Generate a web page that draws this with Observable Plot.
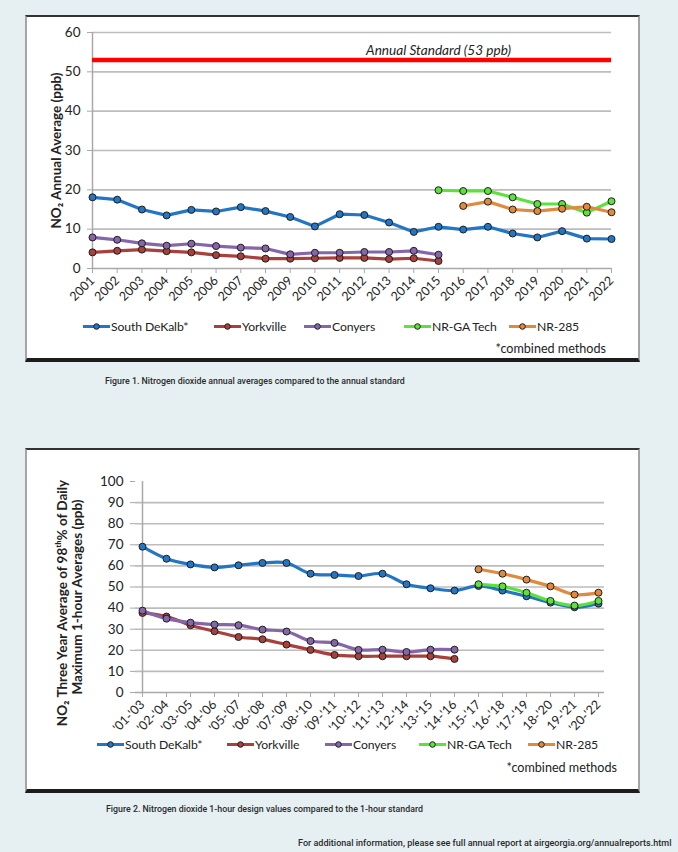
<!DOCTYPE html>
<html>
<head>
<meta charset="utf-8">
<script src="https://cdn.jsdelivr.net/npm/d3@7"></script>
<script src="https://cdn.jsdelivr.net/npm/@observablehq/plot@0.6"></script>
<style>
  html, body { margin: 0; padding: 0; }
  body { width: 678px; height: 852px; background: #e6f0f2; position: relative; overflow: hidden; font-family: Lato, "Open Sans", sans-serif; color: #222; }
  .panel { position: absolute; box-sizing: border-box; background: #fff; border-top: 2px solid #333; border-bottom: 4px solid #1c1c1c; border-left: 2px solid #a5a5a5; border-right: 2px solid #a5a5a5; }
  .chart { position: absolute; }
  .chart svg { overflow: visible; }
  .leg { position: absolute; display: flex; align-items: center; font-size: 12.2px; letter-spacing: -0.1px; white-space: nowrap; transform: translateY(-50%); }
  .leg svg { display: block; margin-right: 1px; }
  .note { position: absolute; font-size: 12.6px; white-space: nowrap; transform: translate(-100%, -50%); }
  .cap { position: absolute; font-family: Roboto, sans-serif; font-weight: 500; font-size: 8.8px; color: #2a2a2a; white-space: nowrap; transform: translateY(-50%); }
  .foot { font-size: 9.05px; }
</style>
</head>
<body>
<div class="panel" style="left:25px;top:15px;width:615px;height:347px"></div>
<div class="panel" style="left:25px;top:448px;width:615px;height:345px"></div>
<div id="chart1" class="chart" style="left:25px;top:15px"></div>
<div id="chart2" class="chart" style="left:25px;top:448px"></div>
<div id="legend1"></div>
<div id="legend2"></div>
<div class="note" style="left:606px;top:348px">*combined methods</div>
<div class="note" style="left:617px;top:767px">*combined methods</div>
<div class="cap" style="left:105px;top:381px">Figure 1. Nitrogen dioxide annual averages compared to the annual standard</div>
<div class="cap" style="left:106px;top:809px">Figure 2. Nitrogen dioxide 1-hour design values compared to the 1-hour standard</div>
<div class="cap foot" style="left:298px;top:843px">For additional information, please see full annual report at airgeorgia.org/annualreports.html</div>
<script>
// ---------- Data: Figure 1 (annual averages, ppb) ----------
const years = [2001, 2002, 2003, 2004, 2005, 2006, 2007, 2008, 2009, 2010, 2011,
               2012, 2013, 2014, 2015, 2016, 2017, 2018, 2019, 2020, 2021, 2022];
const southDeKalbAnnual = [18.1, 17.5, 15.0, 13.5, 14.9, 14.5, 15.6, 14.6, 13.1, 10.7, 13.8,
                           13.6, 11.7, 9.3, 10.6, 9.9, 10.6, 8.9, 7.9, 9.5, 7.6, 7.5];
const yorkvilleYears = [2001, 2002, 2003, 2004, 2005, 2006, 2007, 2008, 2009, 2010, 2011, 2012, 2013, 2014, 2015];
const yorkvilleAnnual = [4.1, 4.5, 4.8, 4.4, 4.1, 3.4, 3.1, 2.5, 2.5, 2.6, 2.7, 2.7, 2.4, 2.6, 1.9];
const conyersYears = [2001, 2002, 2003, 2004, 2005, 2006, 2007, 2008, 2009, 2010, 2011, 2012, 2013, 2014, 2015];
const conyersAnnual = [7.9, 7.3, 6.4, 5.8, 6.3, 5.7, 5.3, 5.1, 3.6, 4.0, 4.0, 4.2, 4.2, 4.5, 3.5];
const gaTechYears = [2015, 2016, 2017, 2018, 2019, 2020, 2021, 2022];
const gaTechAnnual = [19.9, 19.7, 19.7, 18.1, 16.4, 16.4, 14.2, 17.1];
const nr285Years = [2016, 2017, 2018, 2019, 2020, 2021, 2022];
const nr285Annual = [15.9, 17.0, 15.0, 14.6, 15.2, 15.7, 14.3];
const annualStandard = 53;
const annualStandardLabel = "Annual Standard (53 ppb)";
const annualYLabel = "NO\u2082 Annual Average (ppb)";
const annualYTicks = [0, 10, 20, 30, 40, 50, 60];

// ---------- Data: Figure 2 (1-hour design values, ppb) ----------
const periods = ["'01-'03", "'02-'04", "'03-'05", "'04-'06", "'05-'07", "'06-'08", "'07-'09",
                 "'08-'10", "'09-'11", "'10-'12", "'11-'13", "'12-'14", "'13-'15", "'14-'16",
                 "'15-'17", "'16-'18", "'17-'19", "18-'20", "19-'21", "'20-'22"];
const southDeKalbHour = [69.1, 63.4, 60.7, 59.3, 60.3, 61.4, 61.4, 56.3, 55.7, 55.2,
                         56.3, 51.3, 49.4, 48.3, 50.5, 48.3, 45.6, 42.6, 40.4, 42.1];
const yorkvilleHour = [37.7, 36.0, 31.9, 29.0, 26.3, 25.2, 22.7, 20.2, 17.8, 17.2, 17.2, 17.2, 17.2, 15.9];
const conyersHour = [38.8, 35.0, 33.1, 32.2, 31.9, 29.8, 28.9, 24.4, 23.5, 20.2, 20.3, 19.2, 20.3, 20.3];
const gaTechHour = [51.3, 50.3, 47.3, 43.4, 41.2, 43.4];
const nr285Hour = [58.4, 56.3, 53.5, 50.3, 46.4, 47.3];
const hourStandard = 100;
const hourStandardLabel = "1-Hour Standard (100 ppb)";
const hourYLabel1 = "NO\u2082 Three Year Average of 98\u1d57\u02b0% of Daily";
const hourYLabel2 = "Maximum 1-hour Averages (ppb)";
const hourYTicks = [0, 10, 20, 30, 40, 50, 60, 70, 80, 90, 100];

// ---------- Series ----------
const seriesNames = ["South DeKalb*", "Yorkville", "Conyers", "NR-GA Tech", "NR-285"];
const seriesColors = ["#2376c4", "#a8403c", "#8566a8", "#5ce23a", "#e08a3e"];

// Build tidy tables
const annualData = [
  ...years.map((x, i) => ({series: seriesNames[0], x, y: southDeKalbAnnual[i]})),
  ...yorkvilleYears.map((x, i) => ({series: seriesNames[1], x, y: yorkvilleAnnual[i]})),
  ...conyersYears.map((x, i) => ({series: seriesNames[2], x, y: conyersAnnual[i]})),
  ...gaTechYears.map((x, i) => ({series: seriesNames[3], x, y: gaTechAnnual[i]})),
  ...nr285Years.map((x, i) => ({series: seriesNames[4], x, y: nr285Annual[i]}))
];
const hourData = [
  ...periods.map((x, i) => ({series: seriesNames[0], x, y: southDeKalbHour[i]})),
  ...yorkvilleHour.map((y, i) => ({series: seriesNames[1], x: periods[i], y})),
  ...conyersHour.map((y, i) => ({series: seriesNames[2], x: periods[i], y})),
  ...gaTechHour.map((y, i) => ({series: seriesNames[3], x: periods[periods.length - gaTechHour.length + i], y})),
  ...nr285Hour.map((y, i) => ({series: seriesNames[4], x: periods[periods.length - nr285Hour.length + i], y}))
];

const FONT = "Lato, 'Open Sans', sans-serif";
const color = {domain: seriesNames, range: seriesColors};

// ---------- Figure 1 ----------
const chart1 = Plot.plot({
  width: 614, height: 310,
  marginLeft: 67, marginRight: 28, marginTop: 17, marginBottom: 57,
  style: {fontFamily: FONT, fontSize: "13px", color: "#222", background: "transparent", overflow: "visible"},
  x: {type: "linear", domain: [years[0], years[years.length - 1]]},
  y: {domain: [0, 60]},
  color,
  marks: [
    Plot.ruleY(annualYTicks.slice(1), {stroke: "#bcbcbc", strokeWidth: 1.6}),
    Plot.ruleX([years[0]], {y1: 0, y2: 60, stroke: "#a8a8a8", strokeWidth: 1.5}),
    Plot.ruleY([0], {stroke: "#a8a8a8", strokeWidth: 1.5}),
    Plot.axisY({ticks: annualYTicks, tickSize: 5, tickPadding: 7, stroke: "#a8a8a8", label: null, fontSize: 13.5}),
    Plot.axisX({ticks: years, tickFormat: d => String(d), tickRotate: -45, tickSize: 5, tickPadding: 5, stroke: "#a8a8a8", label: null, fontSize: 12.5}),
    Plot.ruleY([annualStandard], {x1: years[0], x2: years[years.length - 1], stroke: "#ff0000", strokeWidth: 4.5}),
    Plot.text([annualStandardLabel], {x: 2015, frameAnchor: "top", dy: 13, fontStyle: "italic", fontSize: 13.6}),
    Plot.text([annualYLabel], {frameAnchor: "left", textAnchor: "middle", dx: -36, rotate: -90, fontWeight: "bold", fontSize: 13.5}),
    Plot.line(annualData, {x: "x", y: "y", z: "series", stroke: "series", strokeWidth: 3.2}),
    Plot.dot(annualData, {x: "x", y: "y", fill: "series", stroke: "#1e1e1e", strokeWidth: 1, r: 3.5})
  ]
});
document.getElementById("chart1").append(chart1);

// ---------- Figure 2 ----------
const chart2 = Plot.plot({
  width: 614, height: 295,
  marginLeft: 110, marginRight: 35, marginTop: 33, marginBottom: 51,
  style: {fontFamily: FONT, fontSize: "13px", color: "#222", background: "transparent", overflow: "visible"},
  x: {type: "point", domain: periods, padding: 0},
  y: {domain: [0, 100]},
  color,
  marks: [
    Plot.ruleY(hourYTicks.slice(1, -1), {stroke: "#bcbcbc", strokeWidth: 1.6}),
    Plot.ruleX([periods[0]], {y1: 0, y2: 100, stroke: "#a8a8a8", strokeWidth: 1.5}),
    Plot.ruleY([0], {stroke: "#a8a8a8", strokeWidth: 1.5}),
    Plot.axisY({ticks: hourYTicks, tickSize: 5, tickPadding: 7, stroke: "#a8a8a8", label: null, fontSize: 13.5}),
    Plot.axisX({tickRotate: -45, tickSize: 5, tickPadding: 5, stroke: "#a8a8a8", label: null, fontSize: 12.5}),
    Plot.ruleY([hourStandard], {x1: periods[0], x2: periods[periods.length - 1], stroke: "#ff0000", strokeWidth: 4.5}),
    Plot.text([hourStandardLabel], {x: periods[11], frameAnchor: "top", dy: -19, fontStyle: "italic", fontSize: 13.6}),
    Plot.text([hourYLabel1], {frameAnchor: "left", textAnchor: "middle", dx: -73, dy: 16, rotate: -90, fontWeight: "bold", fontSize: 13.5}),
    Plot.text([hourYLabel2], {frameAnchor: "left", textAnchor: "middle", dx: -58, dy: 10, rotate: -90, fontWeight: "bold", fontSize: 13.5}),
    Plot.line(hourData, {x: "x", y: "y", z: "series", stroke: "series", strokeWidth: 3.2, curve: "catmull-rom"}),
    Plot.dot(hourData, {x: "x", y: "y", fill: "series", stroke: "#1e1e1e", strokeWidth: 1, r: 3.5})
  ]
});
document.getElementById("chart2").append(chart2);

// ---------- Legends ----------
function legend(containerId, lefts, top) {
  const c = document.getElementById(containerId);
  seriesNames.forEach((name, i) => {
    const item = document.createElement("div");
    item.className = "leg";
    item.style.left = lefts[i] + "px";
    item.style.top = top + "px";
    item.innerHTML = `<svg width="27" height="10"><line x1="0" x2="27" y1="5" y2="5" stroke="${seriesColors[i]}" stroke-width="3"/><circle cx="13.5" cy="5" r="2.8" fill="${seriesColors[i]}" stroke="#1e1e1e" stroke-width="1"/></svg><span>${name}</span>`;
    c.append(item);
  });
}
legend("legend1", [83, 214, 304, 404, 509], 326);
legend("legend2", [97, 227, 325, 419, 528], 744);
</script>
</body>
</html>
